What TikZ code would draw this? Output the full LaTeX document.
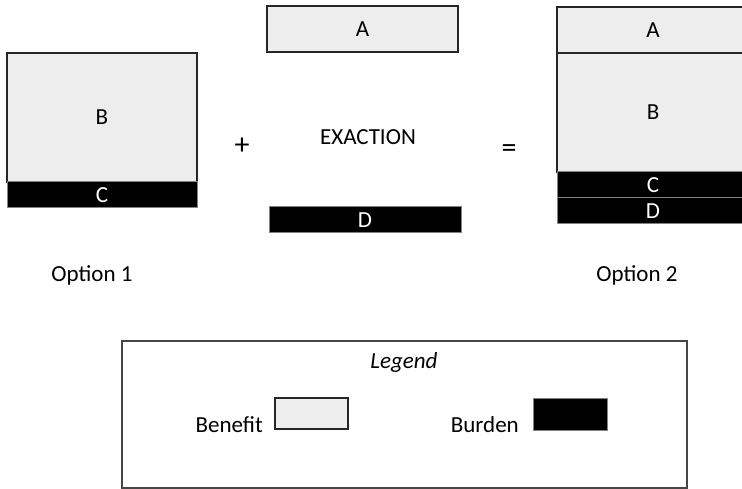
\documentclass[tikz,border=0pt]{standalone}
\usepackage{fontspec}
\setmainfont{Carlito}
\usepackage{xcolor}
\usepackage{tikz}
\usetikzlibrary{positioning}
\definecolor{benefitgray}{RGB}{237, 237, 237}
\definecolor{burdenedge}{RGB}{130, 130, 130}
\definecolor{legendedge}{RGB}{70, 70, 70}

\begin{document}
\begin{tikzpicture}[
    x=1pt, y=-1pt,
    every node/.style={font=\fontsize{23}{27}\selectfont},
    benefit/.style={rectangle, draw=black!85, line width=2pt, fill=benefitgray,
                    inner sep=0pt, minimum width=#1},
    benefit/.default=190pt,
    burden/.style={rectangle, draw=burdenedge, line width=1pt, fill=black, text=white,
                   inner sep=0pt, minimum width=#1, minimum height=26pt},
    burden/.default=190pt,
    sign/.style={font=\fontsize{30}{34}\selectfont},
    caption/.style={anchor=base}
]
\useasboundingbox (0,0) rectangle (742,489);

% Option 1
\node[benefit, minimum height=129pt] (b1) at (102,117.5) {B};
\node[burden] (c1) at (102,195) {C};

% Exaction
\node[benefit=191pt, minimum height=46pt] (a) at (362.5,29) {A};
\node (exaction) at (368,137) {EXACTION};
\node[burden=192pt] (d) at (365,220) {D};

% Signs
\node[sign] (plus) at (242,146) {+};
\node[sign] (equals) at (509,151) {=};

% Option 2
\node[benefit=192pt, minimum height=46pt] (a2) at (653,30) {A};
\node[benefit=192pt, minimum height=119pt] (b2) at (653,112.5) {B};
\node[burden=192pt] (c2) at (653,185) {C};
\node[burden=192pt] (d2) at (653,211) {D};

% Captions
\node[caption] (opt1) at (92,282) {Option 1};
\node[caption] (opt2) at (637,282) {Option 2};

% Legend
\node[rectangle, draw=legendedge, line width=1.2pt, minimum width=565pt, minimum height=147pt]
    (legend) at (404.5,414.5) {};
\node[font=\fontsize{23}{27}\selectfont\itshape] (legendtitle) at (404,362) {Legend};
\node[benefit=73pt, line width=1.8pt, minimum height=31pt] (benefitkey) at (311.5,413.5) {};
\node[anchor=base east, inner sep=0pt] (benefitlbl) at (263,432) {Benefit};
\node[burden=74pt, minimum height=32pt] (burdenkey) at (570,414) {};
\node[anchor=base east, inner sep=0pt] (burdenlbl) at (519,432) {Burden};

\end{tikzpicture}
\end{document}
